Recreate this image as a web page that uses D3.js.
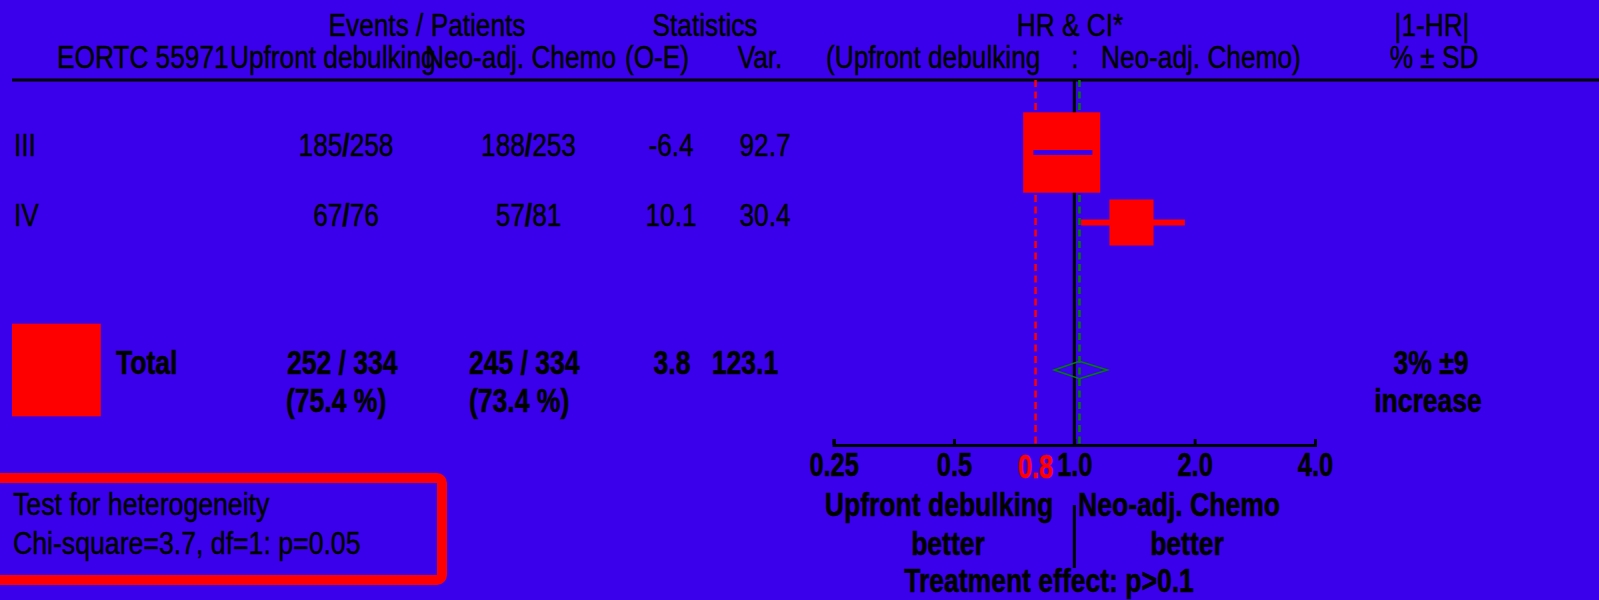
<!DOCTYPE html>
<html>
<head>
<meta charset="utf-8">
<script src="https://cdn.jsdelivr.net/npm/d3@7"></script>
<style>
  body { margin: 0; background: #3a00eb; }
  svg { display: block; font-family: "Liberation Sans", Arial, sans-serif; }
</style>
</head>
<body>
<div id="chart"></div>
<script>
var width = 1599, height = 600;
var bg = "#3a00eb";

// data
var groups = ["III", "IV"];
var evUpfront = [185, 67], ptUpfront = [258, 76];
var evNeo = [188, 57], ptNeo = [253, 81];
var oMinusE = [-6.4, 10.1], variance = [92.7, 30.4];
var hr = [0.93, 1.39], ciLow = [0.79, 1.04], ciHigh = [1.11, 1.89];

var totEvUpfront = 252, totPtUpfront = 334, totEvNeo = 245, totPtNeo = 334;
var totOE = 3.8, totVar = 123.1;
var totHR = 1.03, totLow = 0.89, totHigh = 1.21;
var pctChange = 3, pctSD = 9, pctWord = "increase";
var refHR = 0.8;

var tickVals = [0.25, 0.5, 1, 2, 4];
var tickLabels = ["0.25", "0.5", "1.0", "2.0", "4.0"];

var hetChi = 3.7, hetDf = 1, hetP = "0.05";

var svg = d3.select("#chart")
    .append("svg")
        .attr("width", width)
        .attr("height", height);

svg.append("rect").attr("width", width).attr("height", height).attr("fill", bg);

// text helper: narrow look by squeezing horizontally
function label(x, y, str, o) {
    o = o || {};
    var sx = o.sx || (o.bold ? 0.78 : 0.82);
    var col = o.fill || "#000";
    return svg.append("text")
        .attr("transform", "translate(" + x + "," + y + ") scale(" + sx + ",1)")
        .attr("text-anchor", o.anchor || "start")
        .attr("font-weight", o.bold ? "bold" : "normal")
        .attr("font-size", o.size || (o.bold ? 34 : 32))
        .attr("fill", col)
        .attr("stroke", col)
        .attr("stroke-width", o.bold ? 0.6 : 0.5)
        .text(str);
}

var x = d3.scaleLog().base(2)
    .domain([0.25, 4])
    .range([833.6, 1315]);

var rowY = d3.scaleLinear()
    .domain([0, 1])
    .range([152.5, 222.5]);
var totalY = 370;

var boxW = d3.scaleSqrt().domain([0, 1]).range([0, 8.0]);
var boxH = d3.scaleSqrt().domain([0, 1]).range([0, 8.35]);

var plotTop = 80, axisY = 445;

// header
label(427, 36, "Events / Patients", {anchor: "middle"});
label(705, 36, "Statistics", {anchor: "middle"});
label(1070, 36, "HR & CI*", {anchor: "middle"});
label(1432, 36, "|1-HR|", {anchor: "middle"});

label(57, 68, "EORTC 55971");
label(230, 68, "Upfront  debulking");
label(425, 68, "Neo-adj. Chemo");
label(657, 68, "(O-E)", {anchor: "middle"});
label(760, 68, "Var.", {anchor: "middle"});
label(826, 68, "(Upfront debulking");
label(1075, 68, ":", {anchor: "middle"});
label(1101, 68, "Neo-adj. Chemo)");
label(1434, 68, "% \u00b1 SD", {anchor: "middle"});

svg.append("line")
    .attr("x1", 12).attr("x2", width)
    .attr("y1", plotTop).attr("y2", plotTop)
    .attr("stroke", "#000").attr("stroke-width", 3);

// reference lines
svg.append("line")
    .attr("x1", x(1)).attr("x2", x(1))
    .attr("y1", plotTop).attr("y2", axisY)
    .attr("stroke", "#000").attr("stroke-width", 3);

svg.append("line")
    .attr("x1", x(refHR)).attr("x2", x(refHR))
    .attr("y1", plotTop).attr("y2", axisY)
    .attr("stroke", "#ff0000").attr("stroke-width", 2.5)
    .attr("stroke-dasharray", "7,4.5");

svg.append("line")
    .attr("x1", x(totHR)).attr("x2", x(totHR))
    .attr("y1", plotTop).attr("y2", axisY)
    .attr("stroke", "#008000").attr("stroke-width", 2.5)
    .attr("stroke-dasharray", "7,4.5");

// group rows
groups.forEach(function(g, i) {
    var yc = rowY(i), yb = yc + 3.5;
    label(14, yb, g);

    var t = label(346, yb, "", {anchor: "middle"});
    t.append("tspan").text(evUpfront[i]);
    t.append("tspan").attr("font-weight", "bold").text("/");
    t.append("tspan").text(ptUpfront[i]);

    var t2 = label(528.5, yb, "", {anchor: "middle"});
    t2.append("tspan").text(evNeo[i]);
    t2.append("tspan").attr("font-weight", "bold").text("/");
    t2.append("tspan").text(ptNeo[i]);

    label(671, yb, oMinusE[i].toFixed(1), {anchor: "middle"});
    label(765, yb, variance[i].toFixed(1), {anchor: "middle"});

    var w = boxW(variance[i]), h = boxH(variance[i]);
    var bx = x(hr[i]) - w / 2;
    var inside = x(ciLow[i]) >= bx && x(ciHigh[i]) <= bx + w;

    svg.append("rect")
        .attr("x", bx).attr("y", yc - h / 2)
        .attr("width", w).attr("height", h)
        .attr("fill", "#ff0000");

    svg.append("line")
        .attr("x1", x(ciLow[i])).attr("x2", x(ciHigh[i]))
        .attr("y1", yc).attr("y2", yc)
        .attr("stroke", inside ? bg : "#ff0000")
        .attr("stroke-width", inside ? 5 : 6);
});

// total row
var tw = boxW(totVar), th = boxH(totVar);
svg.append("rect")
    .attr("x", 12).attr("y", totalY - th / 2)
    .attr("width", tw).attr("height", th)
    .attr("fill", "#ff0000");

var tb = totalY + 3.5;
label(116, tb, "Total", {bold: true});
label(287, tb, totEvUpfront + " / " + totPtUpfront, {bold: true});
label(286, tb + 38, "(" + (100 * totEvUpfront / totPtUpfront).toFixed(1) + " %)", {bold: true});
label(469, tb, totEvNeo + " / " + totPtNeo, {bold: true});
label(469, tb + 38, "(" + (100 * totEvNeo / totPtNeo).toFixed(1) + " %)", {bold: true});
label(672, tb, totOE.toFixed(1), {bold: true, anchor: "middle"});
label(745, tb, totVar.toFixed(1), {bold: true, anchor: "middle"});
label(1431, tb, pctChange + "% \u00b1" + pctSD, {bold: true, anchor: "middle"});
label(1428, tb + 38, pctWord, {bold: true, anchor: "middle"});

svg.append("path")
    .attr("d", d3.line()([
        [x(totLow), totalY], [x(totHR), totalY - 8.7],
        [x(totHigh), totalY], [x(totHR), totalY + 8.7]
    ]) + "Z")
    .attr("fill", "none")
    .attr("stroke", "#008000")
    .attr("stroke-width", 1.5);

// axis
var axis = svg.append("g")
    .attr("transform", "translate(0," + axisY + ")")
    .call(d3.axisBottom(x)
        .tickValues(tickVals)
        .tickFormat(function(d, i) { return tickLabels[i]; })
        .tickSize(-6)
        .tickPadding(8));

axis.select(".domain").attr("stroke", "#000").attr("stroke-width", 3);
axis.selectAll(".tick line").attr("stroke", "#000").attr("stroke-width", 3);
axis.selectAll(".tick text")
    .attr("fill", "#000")
    .attr("stroke", "#000")
    .attr("stroke-width", 0.6)
    .attr("font-family", "Liberation Sans, Arial, sans-serif")
    .attr("font-size", 33)
    .attr("font-weight", "bold")
    .attr("transform", "scale(0.77,1)");

label(x(refHR), 478, refHR.toFixed(1), {bold: true, anchor: "middle", fill: "#ff0000", size: 33, sx: 0.77});

label(939, 516, "Upfront debulking", {bold: true, anchor: "middle"});
label(1179, 516, "Neo-adj. Chemo", {bold: true, anchor: "middle"});
label(948, 555, "better", {bold: true, anchor: "middle"});
label(1187, 555, "better", {bold: true, anchor: "middle"});
label(1049, 592, "Treatment effect: p>0.1", {bold: true, anchor: "middle"});

svg.append("line")
    .attr("x1", x(1)).attr("x2", x(1))
    .attr("y1", 505).attr("y2", 568)
    .attr("stroke", "#000").attr("stroke-width", 3);

// heterogeneity box
svg.append("rect")
    .attr("x", -10).attr("y", 478)
    .attr("width", 452).attr("height", 102)
    .attr("rx", 5)
    .attr("fill", "none")
    .attr("stroke", "#ff0000")
    .attr("stroke-width", 10);

label(13, 515, "Test for heterogeneity", {size: 31, sx: 0.86});
label(13, 554, "Chi-square=" + hetChi + ", df=" + hetDf + ": p=" + hetP, {size: 31, sx: 0.86});
</script>
</body>
</html>
